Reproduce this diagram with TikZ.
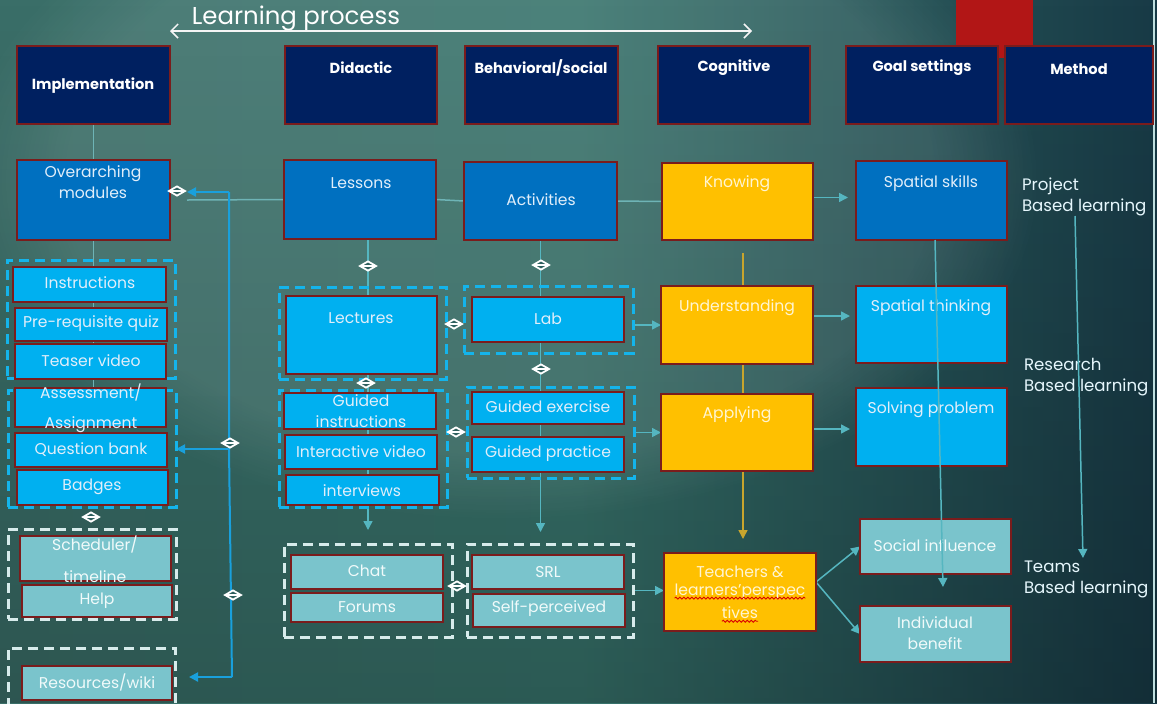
\documentclass[tikz,border=0pt]{standalone}
\usepackage{fontspec}
\setmainfont{Poppins}
\usetikzlibrary{fit,shapes.geometric,arrows.meta,fadings,decorations.pathmorphing}
\definecolor{navy}{RGB}{0,32,96}
\definecolor{bord}{RGB}{122,28,28}
\definecolor{mblue}{RGB}{0,112,192}
\definecolor{lblue}{RGB}{0,176,240}
\definecolor{yel}{RGB}{255,192,0}
\definecolor{tealb}{RGB}{122,196,204}
\definecolor{dashb}{RGB}{20,180,235}
\definecolor{dashw}{RGB}{215,235,235}
\definecolor{cline}{RGB}{110,180,182}
\definecolor{carrow}{RGB}{85,182,192}
\definecolor{cblue}{RGB}{25,160,220}
\definecolor{cgold}{RGB}{200,165,45}
\definecolor{tblue}{RGB}{225,238,250}
\definecolor{tyel}{RGB}{255,245,210}
\definecolor{tteal}{RGB}{240,250,250}
\definecolor{bgL}{RGB}{58,110,104}
\definecolor{bgM}{RGB}{56,116,108}
\definecolor{bgR}{RGB}{24,58,70}
\definecolor{diafill}{RGB}{45,95,94}
\definecolor{redsq}{RGB}{178,22,22}
\pgfdeclarelayer{back}\pgfdeclarelayer{lines}\pgfsetlayers{back,lines,main}
\newcommand\rbox[6]{\node[#2, fit={(#3,#4) (#5,#6)}] (#1) {};}
\newcommand\tx[5]{\node[#2] (#1) at (#3,#4) {#5};}
\begin{document}
\begin{tikzpicture}[x=0.5pt,y=-0.5pt,
 every node/.style={inner sep=0pt, outer sep=0pt},
 hdr/.style={draw=bord, line width=1pt, fill=navy},
 mb/.style={draw=bord, line width=1pt, fill=mblue},
 lb/.style={draw=bord, line width=1pt, fill=lblue},
 yb/.style={draw=bord, line width=1pt, fill=yel},
 tb/.style={draw=bord, line width=1pt, fill=tealb},
 gb/.style={draw=dashb, line width=1.5pt, dash pattern=on 5pt off 3pt},
 gw/.style={draw=dashw, line width=1.5pt, dash pattern=on 5pt off 3pt},
 ht/.style={text=white, font=\bfseries\fontsize{7.3}{9}\selectfont},
 bt/.style={text=tblue, align=center, font=\fontsize{7.8}{10.5}\selectfont},
 yt/.style={bt, text=tyel},
 tt/.style={bt, text=tteal},
 mt/.style={text=white!90!cyan, align=left, anchor=west, font=\fontsize{8.3}{10.5}\selectfont},
 conn/.style={draw=cline, line width=0.75pt},
 carr/.style={draw=carrow, line width=0.75pt, -{Triangle[length=4.5pt,width=4.5pt]}},
 bconn/.style={draw=cblue, line width=1pt},
 barr/.style={bconn, -{Triangle[length=4.5pt,width=4.5pt]}},
 yconn/.style={draw=cgold, line width=0.75pt, -{Triangle[length=4.5pt,width=4.5pt]}},
 dia/.style={diamond, draw=white, line width=0.9pt, fill=diafill, minimum width=8pt, minimum height=4.6pt,
   path picture={\draw[white, line width=0.7pt] (path picture bounding box.west) -- (path picture bounding box.east);}},
]
\useasboundingbox (0pt,0pt) rectangle (578.5pt,-351.5pt);
\begin{pgfonlayer}{back}
\shade[left color=bgL, right color=bgR, middle color=bgM] (0pt,0pt) rectangle (578.5pt,-351.5pt);
\fill[black, opacity=0.22, path fading=north] (0pt,0pt) rectangle (578.5pt,-351.5pt);
\fill[white, opacity=0.1, path fading=circle with fuzzy edge 20 percent] (250pt,-90pt) ellipse (270pt and 170pt);
\draw[white!75!teal, line width=0.6pt] (1154,0) -- (1154,703);
\fill[redsq] (956,0) rectangle (1033,58);
\end{pgfonlayer}

% title
\node[text=white, font=\fontsize{12.2}{14}\selectfont] (title) at (296,19) {Learning process};
\coordinate (lpL) at (170,31); \coordinate (lpR) at (752,31);
\draw[white!92!gray, line width=0.75pt, {Straight Barb[length=3.5pt,width=7pt]}-{Straight Barb[length=3.5pt,width=7pt]}] (lpL) -- (lpR);

% headers
\rbox{impl}{hdr}{17}{46}{170}{124}
\rbox{didac}{hdr}{285}{46}{437}{124}
\rbox{behav}{hdr}{465}{46}{618}{124}
\rbox{cogn}{hdr}{658}{46}{810}{124}
\rbox{goal}{hdr}{846}{46}{998}{124}
\rbox{meth}{hdr}{1005}{46}{1153}{124}
\tx{impl-t}{ht}{93}{86}{Implementation}
\tx{didac-t}{ht}{361}{68}{Didactic}
\tx{behav-t}{ht}{541}{68}{Behavioral/social}
\tx{cogn-t}{ht}{734}{68}{Cognitive}
\tx{goal-t}{ht}{922}{68}{Goal settings}
\tx{meth-t}{ht}{1079}{69}{Method}

% groups
\rbox{g-instr}{gb}{7}{260}{175}{378}
\rbox{g-assess}{gb}{8}{390}{176}{507}
\rbox{g-sched}{gw}{8}{529}{176}{619}
\rbox{g-res}{gw}{8}{648}{175}{712}
\rbox{g-lect}{gb}{279}{287}{446}{379}
\rbox{g-did2}{gb}{279}{390}{447}{507}
\rbox{g-chat}{gw}{284}{544}{452}{637}
\rbox{g-lab}{gb}{464}{286}{633}{353}
\rbox{g-gex}{gb}{467}{387}{634}{478}
\rbox{g-srl}{gw}{467}{544}{633}{637}

% row 2
\rbox{over}{mb}{17}{160}{170}{240}
\rbox{lessons}{mb}{284}{160}{436}{239}
\rbox{activ}{mb}{464}{162}{617}{240}
\rbox{know}{yb}{662}{163}{813}{240}
\rbox{spsk}{mb}{856}{161}{1007}{240}
% row 3
\rbox{instr}{lb}{13}{267}{166}{302}
\rbox{prereq}{lb}{15}{308}{167}{341}
\rbox{teaser}{lb}{15}{344}{166}{379}
\rbox{lect}{lb}{286}{296}{437}{374}
\rbox{lab}{lb}{472}{297}{624}{342}
\rbox{under}{yb}{661}{286}{813}{364}
\rbox{spth}{lb}{856}{286}{1007}{363}
% row 4
\rbox{assess}{lb}{15}{388}{166}{427}
\rbox{qbank}{lb}{15}{433}{167}{467}
\rbox{badges}{lb}{17}{470}{168}{505}
\rbox{guidi}{lb}{284}{393}{436}{429}
\rbox{intv}{lb}{285}{435}{437}{469}
\rbox{interv}{lb}{286}{475}{439}{505}
\rbox{gex}{lb}{472}{392}{624}{424}
\rbox{gprac}{lb}{472}{437}{624}{472}
\rbox{apply}{yb}{661}{394}{813}{471}
\rbox{solve}{lb}{856}{388}{1007}{466}
% row 5
\rbox{sched}{tb}{20}{536}{171}{581}
\rbox{help}{tb}{22}{585}{172}{617}
\rbox{chat}{tb}{291}{555}{443}{589}
\rbox{forums}{tb}{291}{593}{443}{622}
\rbox{srl}{tb}{472}{555}{624}{589}
\rbox{selfp}{tb}{473}{594}{625}{627}
\rbox{teach}{yb}{664}{553}{816}{631}
\rbox{social}{tb}{860}{519}{1011}{574}
\rbox{indiv}{tb}{860}{606}{1011}{662}
% row 6
\rbox{res}{tb}{22}{666}{172}{700}

% connectors behind boxes
\begin{pgfonlayer}{lines}
\draw[conn] (impl.south) -- (impl.south |- g-assess.north);
\coordinate (c-ov) at (187,200);
\draw[conn] (c-ov) -- (lessons.west);
\draw[conn] (lessons.east) -- (activ.west);
\draw[conn] (activ.east) -- (know.west);
\draw[carr, shorten >=4pt] ([yshift=2pt]know.east) -- ([yshift=2pt]know.east -| spsk.west);
\draw[carr] (lessons.south -| g-chat.north) -- ([yshift=7pt]g-chat.north);
\draw[carr] (activ.south) -- ([yshift=6pt]activ.south |- g-srl.north);
\coordinate (y-top) at (743,253);
\draw[yconn] (y-top) -- ([yshift=7pt]y-top |- teach.north);
\draw[carr] (g-lab.east |- under.west) -- (under.west);
\draw[carr] (g-gex.east |- apply.west) -- (apply.west);
\draw[carr, shorten >=3pt] ([yshift=4.5pt]under.east) -- ([yshift=4.5pt]under.east -| spth.west);
\draw[carr, shorten >=3pt] ([yshift=1.75pt]apply.east) -- ([yshift=1.75pt]apply.east -| solve.west);
\draw[carr] (g-srl.east) -- (g-srl.east -| teach.west);
\draw[carr] ([yshift=5pt]teach.east) -- (social.west);
\draw[carr] ([yshift=5pt]teach.east) -- (indiv.west);
\coordinate (b-top) at (229,192);
\coordinate (b-q) at (229,449);
\coordinate (b-bot) at (232,677);
\coordinate (b-ov) at (187,192);
\draw[bconn] (b-top) -- (b-q) -- (b-bot);
\draw[barr] (b-top) -- (b-ov);
\draw[barr] (b-q) -- (g-assess.east |- b-q);
\draw[barr, shorten >=7pt] (b-bot) -- (g-res.east |- b-bot);
\end{pgfonlayer}

% long lines over boxes
\coordinate (l1a) at (935,240); \coordinate (l1b) at (943,587);
\coordinate (l2a) at (1075,216); \coordinate (l2b) at (1083,558);

% texts
\tx{over-t}{bt}{93}{182}{Overarching\\modules}
\tx{lessons-t}{bt}{361}{183}{Lessons}
\tx{activ-t}{bt}{541}{200}{Activities}
\tx{know-t}{yt}{737}{184}{Knowing}
\tx{spsk-t}{bt}{931}{184}{Spatial skills}
\tx{instr-t}{bt}{90}{283}{Instructions}
\tx{prereq-t}{bt}{91}{324}{Pre-requisite quiz}
\tx{teaser-t}{bt}{91}{361}{Teaser video}
\tx{lect-t}{bt}{361}{318}{Lectures}
\tx{lab-t}{bt}{548}{319}{Lab}
\tx{under-t}{yt}{737}{308}{Understanding}
\tx{spth-t}{bt}{931}{308}{Spatial thinking}
\node[bt, font=\fontsize{7.8}{15}\selectfont] (assess-t) at (91,408) {Assessment/\\Assignment};
\tx{qbank-t}{bt}{91}{450}{Question bank}
\tx{badges-t}{bt}{92}{487}{Badges}
\tx{guidi-t}{bt}{361}{411}{Guided\\instructions}
\tx{intv-t}{bt}{361}{452}{Interactive video}
\tx{interv-t}{bt}{362}{491}{interviews}
\tx{gex-t}{bt}{548}{407}{Guided exercise}
\tx{gprac-t}{bt}{548}{454}{Guided practice}
\tx{apply-t}{yt}{737}{415}{Applying}
\tx{solve-t}{bt}{931}{410}{Solving problem}
\node[tt, font=\fontsize{7.8}{16}\selectfont] (sched-t) at (95,559) {Scheduler/\\timeline};
\tx{help-t}{tt}{97}{601}{Help}
\tx{chat-t}{tt}{367}{571}{Chat}
\tx{forums-t}{tt}{367}{607}{Forums}
\tx{srl-t}{tt}{548}{572}{SRL}
\tx{selfp-t}{tt}{549}{609}{Self-perceived}
\tx{teach-t1}{yt}{740}{572}{Teachers \&}
\tx{teach-t2}{yt}{740}{592}{learners'perspec}
\tx{teach-t3}{yt}{740}{613}{tives}
\draw[red!85!black, line width=0.4pt, decorate, decoration={snake, amplitude=0.5pt, segment length=2pt}] ([yshift=-1.2pt]teach-t2.base west) -- ([yshift=-1.2pt]teach-t2.base east);
\draw[red!85!black, line width=0.4pt, decorate, decoration={snake, amplitude=0.5pt, segment length=2pt}] ([yshift=-1.2pt]teach-t3.base west) -- ([yshift=-1.2pt]teach-t3.base east);
\tx{social-t}{tt}{935}{546}{Social influence}
\tx{indiv-t}{tt}{935}{633}{Individual\\benefit}
\tx{res-t}{tt}{97}{682}{Resources/wiki}
\node[mt] (proj-t) at (1022,197) {Project\\Based learning};
\node[mt] (resb-t) at (1024,377) {Research\\Based learning};
\node[mt] (team-t) at (1024,579) {Teams\\Based learning};

\draw[carr] (l1a) -- (l1b);
\draw[carr] (l2a) -- (l2b);

% diamonds
\node[dia] (d-ov) at (177,191) {};
\node[dia] (d-les) at (368,266) {};
\node[dia] (d-act) at (541,265) {};
\node[dia] (d-ll) at (454,324) {};
\node[dia] (d-lab) at (541,369) {};
\node[dia] (d-lec) at (366,383) {};
\node[dia] (d-gi) at (456,432) {};
\node[dia] (d-bq) at (230,443) {};
\node[dia] (d-bd) at (91,517) {};
\node[dia] (d-cs) at (457,586) {};
\node[dia] (d-bb) at (233,595) {};
\end{tikzpicture}
\end{document}
